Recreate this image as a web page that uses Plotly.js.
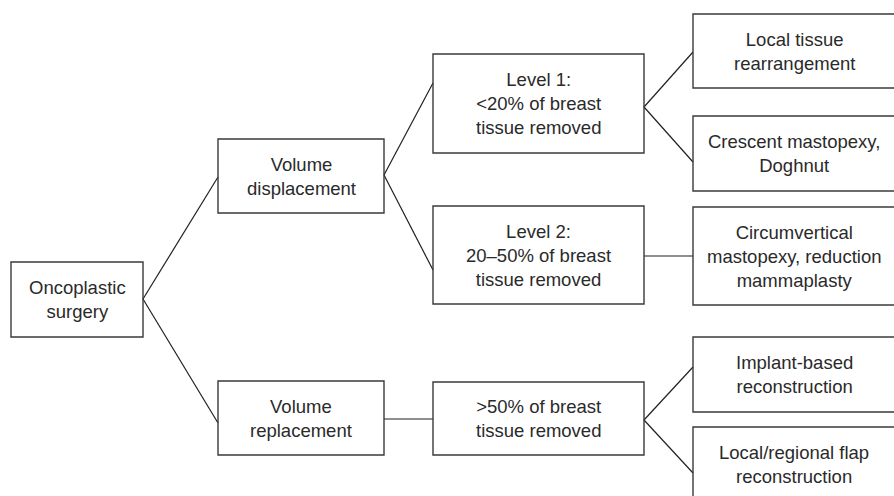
<!DOCTYPE html>
<html>
<head>
<meta charset="utf-8">
<script src="https://cdn.plot.ly/plotly-3.0.1.min.js"></script>
<style>html,body{margin:0;padding:0;background:#fff;}#chart{width:894px;height:496px;}</style>
</head>
<body>
<div id="chart"></div>
<script>
// Node labels (tree of oncoplastic surgery techniques)
const nodeLabels = [
  "Oncoplastic<br>surgery",
  "Volume<br>displacement",
  "Volume<br>replacement",
  "Level 1:<br>&lt;20% of breast<br>tissue removed",
  "Level 2:<br>20–50% of breast<br>tissue removed",
  "&gt;50% of breast<br>tissue removed",
  "Local tissue<br>rearrangement",
  "Crescent mastopexy,<br>Doghnut",
  "Circumvertical<br>mastopexy, reduction<br>mammaplasty",
  "Implant-based<br>reconstruction",
  "Local/regional flap<br>reconstruction"
];
// Tree edges: [parent, child]
const edgeParents  = [0, 0, 1, 1, 2, 3, 3, 4, 5, 5];
const edgeChildren = [1, 2, 3, 4, 5, 6, 7, 8, 9, 10];

// ---- layout geometry (pixel space, y downward) ----
const boxX0 = [11, 218, 218, 433, 433, 433, 693, 693, 693, 693, 693];
const boxX1 = [143, 384, 384, 644, 644, 644, 903, 903, 903, 903, 903];
const boxY0 = [262, 139, 381, 54, 206, 382, 14, 116, 207, 337, 427];
const boxY1 = [337, 213, 455, 153, 304, 455, 88, 191, 305, 412, 502];
// connector anchor y on parent right side / child left side, per edge
const edgeStartY = [299, 299, 175, 175, 419, 107, 107, 256, 420, 420];
const edgeEndY   = [177, 423, 83, 270, 419, 52, 162, 256, 367, 473];

const ink = "#2a2a2a";
const shapes = [];
const annotations = [];
for (let i = 0; i < nodeLabels.length; i++) {
  shapes.push({type: "rect", xref: "x", yref: "y",
    x0: boxX0[i], x1: boxX1[i], y0: boxY0[i], y1: boxY1[i],
    line: {color: "#3a3a3a", width: 1.4}, fillcolor: "rgba(0,0,0,0)"});
  const cx = (boxX0[i] + boxX1[i]) / 2 - (boxX1[i] > 894 ? 4 : 0);
  const cy = (boxY0[i] + boxY1[i]) / 2;
  annotations.push({xref: "x", yref: "y", x: cx, y: cy,
    text: nodeLabels[i], showarrow: false, align: "center",
    xanchor: "center", yanchor: "middle",
    font: {family: "Liberation Sans, Arial, Helvetica, sans-serif", size: 18.5, color: ink}});
}
const traces = [];
for (let e = 0; e < edgeParents.length; e++) {
  const p = edgeParents[e], c = edgeChildren[e];
  traces.push({type: "scatter", mode: "lines",
    x: [boxX1[p], boxX0[c]], y: [edgeStartY[e], edgeEndY[e]],
    line: {color: "#231f20", width: 1.2}, hoverinfo: "skip", showlegend: false});
}

const layout = {
  width: 894, height: 496,
  margin: {l: 0, r: 0, t: 0, b: 0},
  paper_bgcolor: "#ffffff", plot_bgcolor: "#ffffff",
  xaxis: {range: [0, 894], visible: false, fixedrange: true},
  yaxis: {range: [496, 0], visible: false, fixedrange: true},
  shapes: shapes,
  annotations: annotations,
  showlegend: false
};
Plotly.newPlot("chart", traces, layout, {displayModeBar: false, staticPlot: true});
</script>
</body>
</html>
